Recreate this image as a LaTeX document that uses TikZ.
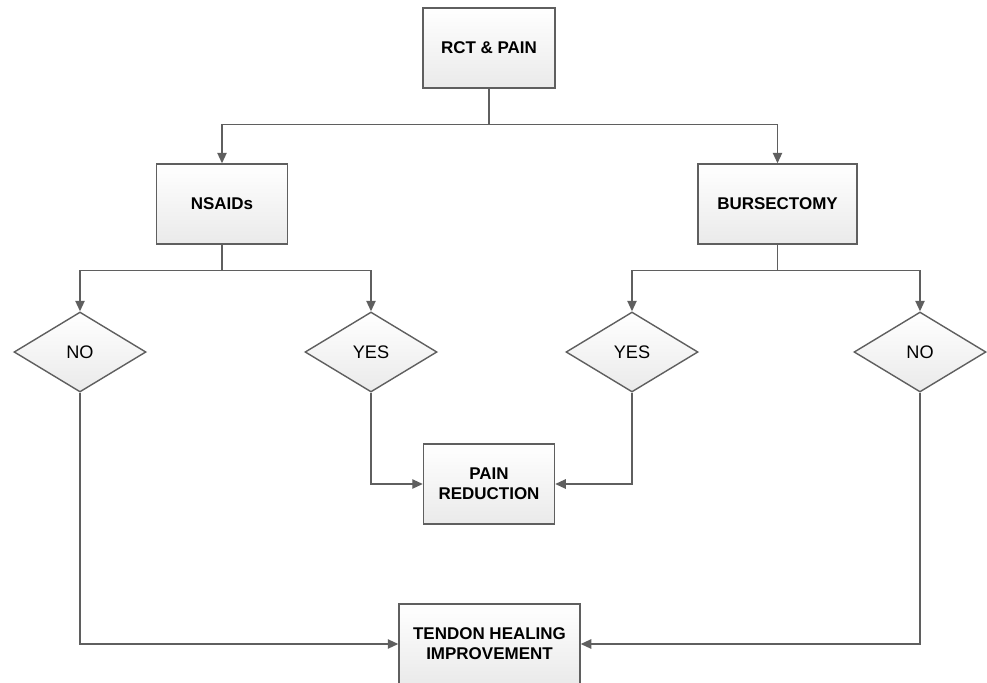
\documentclass[tikz,border=0pt]{standalone}
\usepackage{fontspec}
\setmainfont{Liberation Sans}
\usepackage{tikz}
\usetikzlibrary{arrows.meta,calc,positioning,shapes.geometric}
\definecolor{flowline}{RGB}{95,95,95}
\definecolor{flowfill}{RGB}{234,234,234}

\begin{document}
\begin{tikzpicture}[font=\fontsize{15.5}{18}\selectfont,
  box/.style={draw=flowline,line width=1.2pt,top color=white,bottom color=flowfill,
    minimum height=2.4cm,align=center,font=\fontsize{14.5}{17}\selectfont\bfseries},
  choice/.style={draw=flowline,line width=1.2pt,top color=white,bottom color=flowfill,
    shape=diamond,aspect=1.65,minimum width=3.96cm,minimum height=2.4cm,inner sep=0pt},
  arr/.style={draw=flowline,line width=1.2pt,-{Triangle[length=9pt,width=8pt]}}]
  \useasboundingbox (0,0) rectangle (29.61,-20.46);
  % boxes
  \node[box,minimum width=3.96cm](rct)at(14.67,-1.44){RCT \& PAIN};
  \node[box,minimum width=3.93cm](nsaid)at(6.66,-6.12){NSAIDs};
  \node[box,minimum width=4.77cm](burs)at(23.325,-6.12){BURSECTOMY};
  \node[box,minimum width=3.93cm](pain)at(14.67,-14.52){PAIN\\REDUCTION};
  \node[box,minimum width=5.43cm](tendon)at(14.685,-19.32){TENDON HEALING\\IMPROVEMENT};
  % decisions
  \foreach \nm/\px/\txt in {no1/2.4/NO, yes1/11.13/YES, yes2/18.96/YES, no2/27.6/NO}
    \node[choice](\nm)at(\px,-10.56){\txt};
  % connectors
  \draw[arr](rct.south)--++(0,-1.08)-|(nsaid.north);
  \draw[arr](rct.south)--++(0,-1.08)-|(burs.north);
  \draw[arr](nsaid.south)--++(0,-0.78)-|(no1.north);
  \draw[arr](nsaid.south)--++(0,-0.78)-|(yes1.north);
  \draw[arr](burs.south)--++(0,-0.78)-|(yes2.north);
  \draw[arr](burs.south)--++(0,-0.78)-|(no2.north);
  \draw[arr](yes1.south)|-(pain.west);
  \draw[arr](yes2.south)|-(pain.east);
  \draw[arr](no1.south)|-(tendon.west);
  \draw[arr](no2.south)|-(tendon.east);
\end{tikzpicture}
\end{document}
